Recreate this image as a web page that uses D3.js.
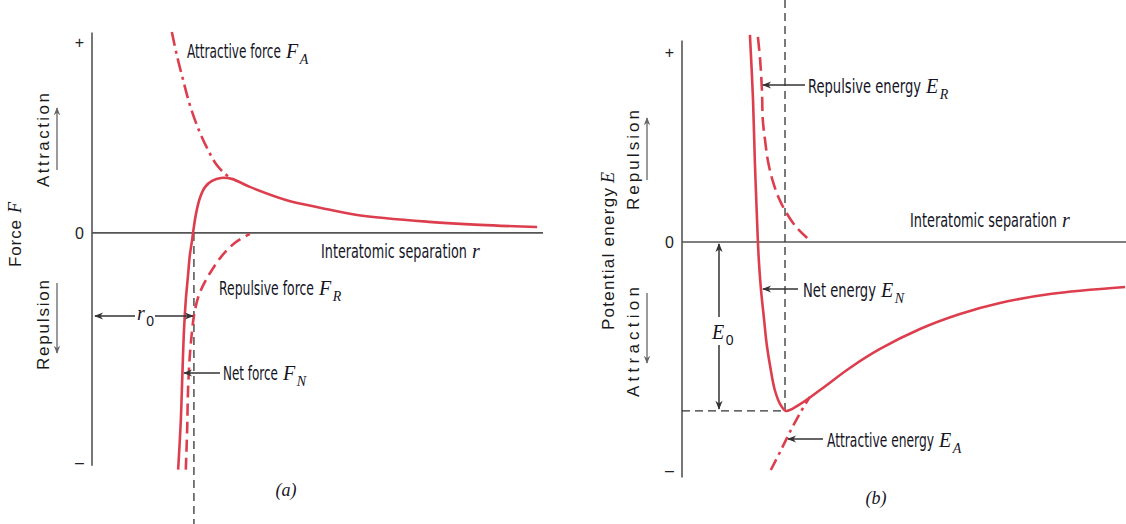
<!DOCTYPE html>
<html>
<head>
<meta charset="utf-8">
<script src="https://cdn.jsdelivr.net/npm/d3@7"></script>
<style>
  body { margin: 0; background: #fff; }
  .lbl { font-family: 'Liberation Sans Narrow', 'DejaVu Sans Condensed', 'Liberation Sans', Arial, sans-serif; font-size: 20px; fill: #15151f; }
  .math { font-family: 'Liberation Serif', 'DejaVu Serif', serif; font-style: italic; font-size: 20px; fill: #15151f; }
  .sub { font-family: 'Liberation Serif', 'DejaVu Serif', serif; font-style: italic; font-size: 14px; fill: #15151f; }
  .num { font-family: 'Liberation Sans Narrow', 'Liberation Sans', Arial, sans-serif; font-size: 14px; fill: #15151f; }
  .side { font-family: 'Liberation Sans', Arial, sans-serif; font-size: 17px; fill: #1a1a1a; }
  .tick text { font-family: 'Liberation Sans Narrow', 'Liberation Sans', Arial, sans-serif; font-size: 16px; fill: #222; }
</style>
</head>
<body>
<svg id="chart" width="1126" height="524"></svg>
<script>
// ---- data (panel a: force vs separation, panel b: energy vs separation) ----
const tickValues = [100, 0, -120];
const tickLabels = ["+", "0", "\u2013"];

const forceNetR = [19.1, 19.7, 20.0, 20.4, 20.8, 21.3, 21.7, 22.2, 22.4, 23.1, 24.0, 25.1, 26.6, 28.6, 31.0, 35.0, 43.0, 50.8, 58.8, 74.7, 86.0, 98.7];
const forceNetF = [-124, -97.9, -77, -50.8, -35.1, -22, -11.5, -3.7, 0, 10.5, 18.8, 24.1, 27.2, 28.8, 28.3, 24.1, 17.3, 13.1, 9.4, 5.8, 4.2, 3.1];

const forceAttR = [17.7, 18.8, 20.2, 21.7, 23.5, 25.5, 27.5, 29.5, 31.0];
const forceAttF = [105.2, 93.2, 80.1, 67, 55, 44.5, 36.1, 30.9, 28.3];

const forceRepR = [20.8, 21.1, 21.3, 21.7, 22.2, 22.6, 23.5, 24.8, 26.6, 28.8, 31.7, 35.0];
const forceRepF = [-124, -103, -82, -64, -51, -43.5, -34, -26.7, -19.4, -12, -5.2, -0.5];

const energyNetR = [15.3, 16.0, 16.4, 16.9, 17.3, 17.8, 18.5, 19.1, 20.0, 20.9, 22.1, 23.4, 26.6, 31.1, 37.8, 44.6, 53.6, 62.6, 71.6, 82.9, 99.8];
const energyNetE = [109, 74.7, 43.2, 11.6, -9.5, -25.3, -41.1, -54.2, -67.4, -77.9, -85.3, -88.9, -85.3, -77.9, -66.3, -56.3, -45.8, -37.9, -32.1, -27.4, -23.7];

const energyRepR = [17.1, 17.6, 18.0, 18.2, 18.7, 19.4, 20.5, 21.8, 23.4, 25.7, 28.2];
const energyRepE = [107.9, 95.8, 80, 64.2, 53.7, 42.1, 31.6, 23.2, 15.8, 7.9, 2.1];

const energyAttR = [20.0, 22.3, 24.3, 26.6, 28.8];
const energyAttE = [-120, -109.5, -100, -90, -81.5];

const r0A = 22.6;   // equilibrium separation (a)
const r0B = 23.2;   // equilibrium separation (b)
const E0 = -88.9;   // bonding energy

const red = "#dd3e4e";
const ink = "#333";

const svg = d3.select("#chart");

const defs = svg.append("defs");
function marker(id, color, w, h) {
  defs.append("marker")
    .attr("id", id)
    .attr("viewBox", "0 -5 10 10")
    .attr("refX", 9).attr("refY", 0)
    .attr("markerWidth", w).attr("markerHeight", h)
    .attr("markerUnits", "userSpaceOnUse")
    .attr("orient", "auto")
    .append("path")
    .attr("d", "M0,-4L10,0L0,4L3,0Z")
    .attr("fill", color);
}
marker("arr", "#333", 11, 9);
marker("arrg", "#666", 9, 8);

const xA = d3.scaleLinear().domain([0, 100]).range([92, 543]);
const yA = d3.scaleLinear().domain([-120, 100]).range([462, 42]);
const xB = d3.scaleLinear().domain([0, 100]).range([682, 1126]);
const yB = d3.scaleLinear().domain([-120, 100]).range([470, 52]);

function zip(a, b) { return a.map((v, i) => [v, b[i]]); }

function drawAxes(x, y, yTop, yBot) {
  const g = svg.append("g").attr("transform", `translate(${x(0)},0)`);
  g.call(d3.axisLeft(y).tickValues(tickValues)
      .tickFormat((d, i) => tickLabels[i]).tickSize(0).tickPadding(8));
  g.select(".domain").remove();
  svg.append("line")
    .attr("x1", x(0)).attr("x2", x(0))
    .attr("y1", y(yTop)).attr("y2", y(yBot))
    .attr("stroke", "#555").attr("stroke-width", 1.6);
  svg.append("line")
    .attr("x1", x(0)).attr("x2", x(100))
    .attr("y1", y(0)).attr("y2", y(0))
    .attr("stroke", "#555").attr("stroke-width", 1.6);
}

function curve(x, y, rs, vs, dash, w) {
  const line = d3.line().x(d => x(d[0])).y(d => y(d[1])).curve(d3.curveCatmullRom.alpha(0.5));
  svg.append("path")
    .attr("d", line(zip(rs, vs)))
    .attr("fill", "none")
    .attr("stroke", red)
    .attr("stroke-width", w || 2.6)
    .attr("stroke-linecap", "butt")
    .attr("stroke-dasharray", dash || null);
}

function dashed(x1, y1, x2, y2) {
  svg.append("line")
    .attr("x1", x1).attr("y1", y1).attr("x2", x2).attr("y2", y2)
    .attr("stroke", ink).attr("stroke-width", 1.3)
    .attr("stroke-dasharray", "8,5");
}

function arrow(x1, y1, x2, y2, grey) {
  svg.append("line")
    .attr("x1", x1).attr("y1", y1).attr("x2", x2).attr("y2", y2)
    .attr("stroke", grey ? "#666" : ink).attr("stroke-width", grey ? 1.3 : 1.5)
    .attr("marker-end", grey ? "url(#arrg)" : "url(#arr)");
}

// italic symbol followed by a separate subscript text
function symbol(x, y, sym, sub, subClass) {
  const s = svg.append("text").attr("class", "math").attr("x", x).attr("y", y).text(sym);
  if (sub) {
    const w = s.node().getComputedTextLength();
    svg.append("text").attr("class", subClass || "sub")
      .attr("x", x + w + 1.5).attr("y", y + 6).text(sub);
  }
}

// condensed word squeezed horizontally to width w, then the symbol
function annot(x, y, word, w, sym, sub) {
  const g = svg.append("g");
  const t = g.append("text").attr("class", "lbl").attr("x", 0).attr("y", 0).text(word);
  const natural = t.node().getComputedTextLength();
  g.attr("transform", `translate(${x},${y}) scale(${w / natural},1)`);
  symbol(x + w + 5, y, sym, sub);
}

function sideLabel(cx, yStart, word, len, sym, symGap) {
  const g = svg.append("g").attr("transform", `translate(${cx + 6},${yStart}) rotate(-90)`);
  g.append("text").attr("class", "side")
    .attr("x", 0).attr("y", 0)
    .attr("textLength", len).attr("lengthAdjust", "spacing")
    .text(word);
  if (sym) {
    g.append("text").attr("class", "math")
      .attr("x", len + symGap).attr("y", 0)
      .style("font-size", "18px").text(sym);
  }
}

// ---------------- panel (a) ----------------
drawAxes(xA, yA, 105, -122);

dashed(xA(r0A), yA(0), xA(r0A), 524);

curve(xA, yA, forceAttR, forceAttF, "14,5,3,5");
curve(xA, yA, forceRepR, forceRepF, "12,6");
curve(xA, yA, forceNetR, forceNetF);

annot(187, 58, "Attractive force", 94, "F", "A");
annot(321, 258, "Interatomic separation", 146, "r");
annot(219, 295, "Repulsive force", 95, "F", "R");
annot(223, 380, "Net force", 55, "F", "N");

// r0 dimension
arrow(135, 316, xA(0) + 3, 316);
arrow(155, 316, xA(r0A) - 1, 316);
symbol(137, 320, "r", "0", "num");

arrow(220, 373, 184, 373);

sideLabel(15, 267, "Force", 47, "F", 7);
sideLabel(43, 187, "Attraction", 94);
sideLabel(43, 370, "Repulsion", 90);
arrow(57, 170, 57, 108, true);
arrow(57, 283, 57, 353, true);

svg.append("text").attr("class", "math")
  .attr("x", 286).attr("y", 496).attr("text-anchor", "middle")
  .style("font-size", "18px").text("(a)");

// ---------------- panel (b) ----------------
drawAxes(xB, yB, 106, -124);

dashed(xB(r0B), 0, xB(r0B), yB(E0));
dashed(xB(0), yB(E0), xB(r0B), yB(E0));

curve(xB, yB, energyAttR, energyAttE, "12,5,3,5");
curve(xB, yB, energyRepR, energyRepE, "14,6");
curve(xB, yB, energyNetR, energyNetE);

annot(808, 93, "Repulsive energy", 113, "E", "R");
annot(910, 227, "Interatomic separation", 147, "r");
annot(803, 297, "Net energy", 73, "E", "N");
annot(827, 447, "Attractive energy", 107, "E", "A");

arrow(805, 85, 763, 85);
arrow(798, 289, 763, 289);
arrow(823, 439, 788, 439);

// E0 dimension
arrow(719, 317, 719, yB(0) + 2);
arrow(719, 345, 719, yB(E0) - 2);
symbol(712, 339, "E", "0", "num");

sideLabel(608, 330, "Potential energy", 142, "E", 5);
sideLabel(633, 210, "Repulsion", 100);
sideLabel(633, 397, "Attraction", 110);
arrow(647, 180, 647, 118, true);
arrow(647, 293, 647, 363, true);

svg.append("text").attr("class", "math")
  .attr("x", 876).attr("y", 504).attr("text-anchor", "middle")
  .style("font-size", "18px").text("(b)");
</script>
</body>
</html>
